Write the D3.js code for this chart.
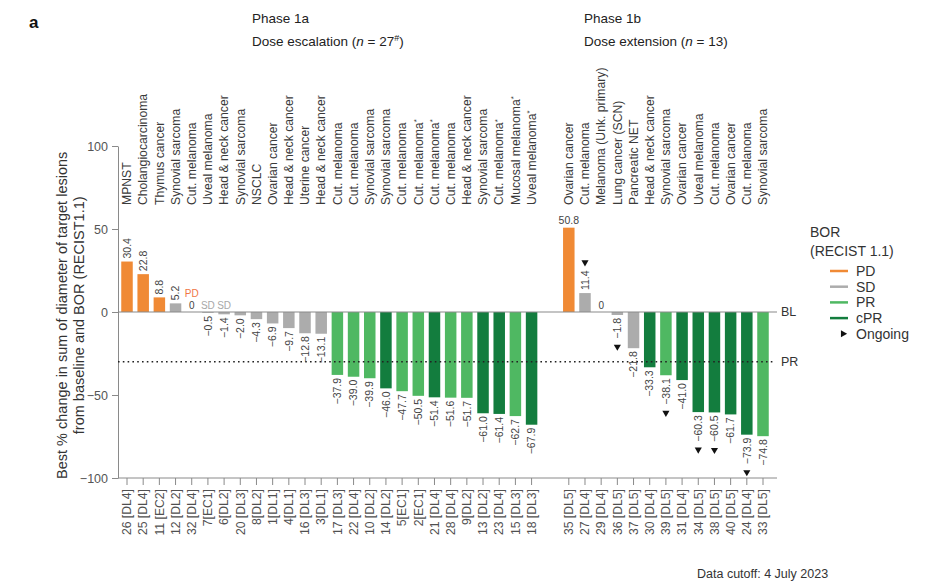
<!DOCTYPE html>
<html>
<head>
<meta charset="utf-8">
<script src="https://cdn.jsdelivr.net/npm/d3@7"></script>
<style>
  body { margin: 0; background: #fff; }
  text { font-family: "Helvetica Neue", "Liberation Sans", Arial, sans-serif; }
</style>
</head>
<body>
<div id="chart"></div>
<script>
// patient id [dose level], tumour type, best % change, BOR, ongoing flag, phase
var patients = ["26 [DL4]", "25 [DL4]", "11 [EC2]", "12 [DL2]", "32 [DL4]", "7[EC1]", "6[DL2]", "20 [DL3]",
  "8[DL2]", "1[DL1]", "4[DL1]", "16 [DL3]", "3[DL1]", "17 [DL3]", "22 [DL4]", "10 [DL2]", "14 [DL2]",
  "5[EC1]", "2[EC1]", "21 [DL4]", "28 [DL4]", "9[DL2]", "13 [DL2]", "23 [DL4]", "15 [DL3]", "18 [DL3]",
  "35 [DL5]", "27 [DL4]", "29 [DL4]", "36 [DL5]", "37 [DL5]", "30 [DL4]", "39 [DL5]", "31 [DL4]",
  "34 [DL5]", "38 [DL5]", "40 [DL5]", "24 [DL4]", "33 [DL5]"];
var tumours = ["MPNST", "Cholangiocarcinoma", "Thymus cancer", "Synovial sarcoma", "Cut. melanoma",
  "Uveal melanoma", "Head & neck cancer", "Synovial sarcoma", "NSCLC", "Ovarian cancer",
  "Head & neck cancer", "Uterine cancer", "Head & neck cancer", "Cut. melanoma", "Cut. melanoma",
  "Synovial sarcoma", "Synovial sarcoma", "Cut. melanoma", "Cut. melanoma*", "Cut. melanoma*",
  "Cut. melanoma", "Head & neck cancer", "Synovial sarcoma", "Cut. melanoma*", "Mucosal melanoma*",
  "Uveal melanoma*",
  "Ovarian cancer", "Cut. melanoma", "Melanoma (Unk. primary)", "Lung cancer (SCN)", "Pancreatic NET",
  "Head & neck cancer", "Synovial sarcoma", "Ovarian cancer", "Uveal melanoma", "Cut. melanoma",
  "Ovarian cancer", "Cut. melanoma", "Synovial sarcoma"];
var changes = [30.4, 22.8, 8.8, 5.2, 0, -0.5, -1.4, -2.0, -4.3, -6.9, -9.7, -12.8, -13.1,
  -37.9, -39.0, -39.9, -46.0, -47.7, -50.5, -51.4, -51.6, -51.7, -61.0, -61.4, -62.7, -67.9,
  50.8, 11.4, 0, -1.8, -21.8, -33.3, -38.1, -41.0, -60.3, -60.5, -61.7, -73.9, -74.8];
var responses = ["PD", "PD", "PD", "SD", "PD", "SD", "SD", "SD", "SD", "SD", "SD", "SD", "SD",
  "PR", "PR", "PR", "cPR", "PR", "PR", "cPR", "PR", "PR", "cPR", "cPR", "PR", "cPR",
  "PD", "SD", "SD", "SD", "SD", "cPR", "PR", "cPR", "cPR", "cPR", "cPR", "cPR", "PR"];
var ongoing = [0, 0, 0, 0, 0, 0, 0, 0, 0, 0, 0, 0, 0, 0, 0, 0, 0, 0, 0, 0, 0, 0, 0, 0, 0, 0,
  0, 1, 0, 1, 0, 0, 1, 0, 1, 1, 0, 1, 0];
var phases = d3.range(39).map(function (i) { return i < 26 ? "1a" : "1b"; });
var notes = {4: "PD", 5: "SD", 6: "SD"};

var borLevels = ["PD", "SD", "PR", "cPR"];
var borColors = ["#f08a35", "#acacac", "#4fb862", "#137d3e"];
var yTicks = [100, 50, 0, -50, -100];

var width = 935, height = 586;
var phaseGap = 2.3;

var data = patients.map(function (p, i) {
  return {
    id: p, tumour: tumours[i], value: changes[i], bor: responses[i],
    ongoing: ongoing[i] === 1, phase: phases[i],
    slot: phases[i] === "1a" ? i : i - 1 + phaseGap,
    note: notes[i] || null
  };
});

var svg = d3.select("#chart").append("svg")
  .attr("width", width)
  .attr("height", height);

var x = d3.scaleLinear().domain([0, 25 + phaseGap + 12]).range([127, 763]);
var y = d3.scaleLinear().domain([-100, 100]).range([478, 146]);
var color = d3.scaleOrdinal().domain(borLevels).range(borColors);
var fmt = d3.format(".1f");
var barW = 11.5;
var axisRight = 777;
var topLabelBase = 205;

// panel letter
svg.append("text").attr("x", 29).attr("y", 28)
  .style("font-size", "17px").style("font-weight", "bold").attr("fill", "#111").text("a");

// phase headers
var headers = [
  {x: 252, t1: "Phase 1a", t2: ["Dose escalation (", "n", " = 27", "#", ")"]},
  {x: 584, t1: "Phase 1b", t2: ["Dose extension (", "n", " = 13", "", ")"]}
];
headers.forEach(function (h) {
  svg.append("text").attr("x", h.x).attr("y", 23)
    .style("font-size", "13.5px").attr("fill", "#222").text(h.t1);
  var t = svg.append("text").attr("x", h.x).attr("y", 46)
    .style("font-size", "13.5px").attr("fill", "#222");
  t.append("tspan").text(h.t2[0]);
  t.append("tspan").style("font-style", "italic").text(h.t2[1]);
  t.append("tspan").text(h.t2[2]);
  if (h.t2[3]) t.append("tspan").attr("dy", -5).style("font-size", "9px").text(h.t2[3]);
  t.append("tspan").attr("dy", h.t2[3] ? 5 : 0).text(h.t2[4]);
});

// y axis
var yAxis = svg.append("g")
  .attr("transform", "translate(118,0)")
  .call(d3.axisLeft(y).tickValues(yTicks).tickSize(6).tickSizeOuter(0).tickPadding(4)
    .tickFormat(function (d) { return d < 0 ? "\u2212" + Math.abs(d) : d; }));
yAxis.selectAll("path, line").attr("stroke", "#8a8a8a");
yAxis.selectAll("text").style("font-size", "12.5px").attr("fill", "#555")
  .style("font-family", "'Helvetica Neue', 'Liberation Sans', Arial, sans-serif");

var yTitle = svg.append("text")
  .attr("transform", "translate(67," + y(-2) + ") rotate(-90)")
  .attr("text-anchor", "middle").style("font-size", "14.5px").attr("fill", "#333");
yTitle.append("tspan").attr("x", 0).attr("dy", 0).text("Best % change in sum of diameter of target lesions");
yTitle.append("tspan").attr("x", 0).attr("dy", 16.5).text("from baseline and BOR (RECIST1.1)");

// bottom axis with patient ticks
svg.append("line").attr("x1", 118).attr("x2", axisRight)
  .attr("y1", y(-100)).attr("y2", y(-100)).attr("stroke", "#8a8a8a");
svg.append("g").selectAll("line").data(data).join("line")
  .attr("x1", function (d) { return x(d.slot); })
  .attr("x2", function (d) { return x(d.slot); })
  .attr("y1", y(-100)).attr("y2", y(-100) + 7)
  .attr("stroke", "#8a8a8a");
svg.append("g").selectAll("text").data(data).join("text")
  .attr("transform", function (d) { return "translate(" + x(d.slot) + "," + (y(-100) + 11) + ") rotate(-90)"; })
  .attr("text-anchor", "end").attr("dy", "0.35em")
  .style("font-size", "12.2px").attr("fill", "#505050")
  .text(function (d) { return d.id; });

// tumour type labels on top
var tl = svg.append("g").selectAll("text").data(data).join("text")
  .attr("transform", function (d) { return "translate(" + x(d.slot) + "," + topLabelBase + ") rotate(-90)"; })
  .attr("dy", "0.35em")
  .style("font-size", "12.2px").attr("fill", "#3a3a3a");
tl.append("tspan").text(function (d) { return d.tumour.replace("*", ""); });
tl.filter(function (d) { return d.tumour.indexOf("*") >= 0; })
  .append("tspan").attr("dy", "-0.45em").style("font-size", "8px").text("*");

// bars
svg.append("g").selectAll("rect").data(data).join("rect")
  .attr("x", function (d) { return x(d.slot) - barW / 2; })
  .attr("width", barW)
  .attr("y", function (d) { return y(Math.max(0, d.value)); })
  .attr("height", function (d) { return Math.abs(y(d.value) - y(0)); })
  .attr("fill", function (d) { return color(d.bor); });

// baseline and PR threshold
svg.append("line").attr("x1", 118).attr("x2", axisRight)
  .attr("y1", y(0)).attr("y2", y(0)).attr("stroke", "#8a8a8a").attr("stroke-width", 1.2);
svg.append("line").attr("x1", 118).attr("x2", axisRight - 4)
  .attr("y1", y(-30)).attr("y2", y(-30)).attr("stroke", "#222")
  .attr("stroke-width", 1.6).attr("stroke-dasharray", "1.6,3.2");
svg.append("text").attr("x", axisRight + 4).attr("y", y(0)).attr("dy", "0.35em")
  .style("font-size", "12.5px").attr("fill", "#333").text("BL");
svg.append("text").attr("x", axisRight + 4).attr("y", y(-30)).attr("dy", "0.35em")
  .style("font-size", "12.5px").attr("fill", "#333").text("PR");

// value labels: rotated, except where a tall bar leaves no room under the tumour labels
function flat(d) { return d.value > 0 && y(d.value) - 26 < topLabelBase + 6; }
var vals = svg.append("g").selectAll("text").data(data.filter(function (d) { return d.value !== 0; })).join("text")
  .attr("transform", function (d) {
    if (flat(d)) return "translate(" + x(d.slot) + "," + (y(d.value) - 4) + ")";
    var yy = d.value > 0 ? y(d.value) - 3 : y(d.value) + 3;
    return "translate(" + x(d.slot) + "," + yy + ") rotate(-90)";
  })
  .attr("text-anchor", function (d) { return flat(d) ? "middle" : (d.value > 0 ? "start" : "end"); })
  .attr("dy", function (d) { return flat(d) ? 0 : "0.35em"; })
  .style("font-size", "10.5px").attr("fill", "#444")
  .text(function (d) { return fmt(d.value); });

// zero values
svg.append("g").selectAll("text").data(data.filter(function (d) { return d.value === 0; })).join("text")
  .attr("x", function (d) { return x(d.slot); })
  .attr("y", y(0) - 3)
  .attr("text-anchor", "middle")
  .style("font-size", "10px").attr("fill", "#444")
  .text("0");

// response notes
svg.append("g").selectAll("text").data(data.filter(function (d) { return d.note; })).join("text")
  .attr("x", function (d) { return x(d.slot); })
  .attr("y", function (d) { return d.value === 0 ? y(0) - 15 : y(0) - 3; })
  .attr("text-anchor", "middle")
  .style("font-size", "10px")
  .attr("fill", function (d) { return d.note === "PD" ? "#f07545" : "#a8a8a8"; })
  .text(function (d) { return d.note; });

// ongoing markers
var tri = d3.symbol().type(d3.symbolTriangle).size(22);
vals.each(function (d) {
  if (!d.ongoing) return;
  var len = this.getComputedTextLength();
  var yy = d.value > 0 ? y(d.value) - 3 - len - 8 : y(d.value) + 3 + len + 8;
  svg.append("path").attr("d", tri)
    .attr("transform", "translate(" + x(d.slot) + "," + yy + ") rotate(180)")
    .attr("fill", "#111");
});

// legend
var lg = svg.append("g").attr("transform", "translate(810,0)");
lg.append("text").attr("x", 0).attr("y", 237).style("font-size", "14px").attr("fill", "#333").text("BOR");
lg.append("text").attr("x", 0).attr("y", 256).style("font-size", "14px").attr("fill", "#333").text("(RECIST 1.1)");
borLevels.forEach(function (b, i) {
  var yy = 271 + i * 15.7;
  lg.append("line").attr("x1", 20).attr("x2", 38).attr("y1", yy).attr("y2", yy)
    .attr("stroke", color(b)).attr("stroke-width", 2.5);
  lg.append("text").attr("x", 46).attr("y", yy).attr("dy", "0.35em")
    .style("font-size", "14px").attr("fill", "#333").text(b);
});
lg.append("path").attr("d", tri)
  .attr("transform", "translate(33," + (271 + 4 * 15.7) + ") rotate(90)").attr("fill", "#111");
lg.append("text").attr("x", 46).attr("y", 271 + 4 * 15.7).attr("dy", "0.35em")
  .style("font-size", "14px").attr("fill", "#333").text("Ongoing");

// footnote
svg.append("text").attr("x", 697).attr("y", 578)
  .style("font-size", "12.5px").attr("fill", "#333").text("Data cutoff: 4 July 2023");
</script>
</body>
</html>
